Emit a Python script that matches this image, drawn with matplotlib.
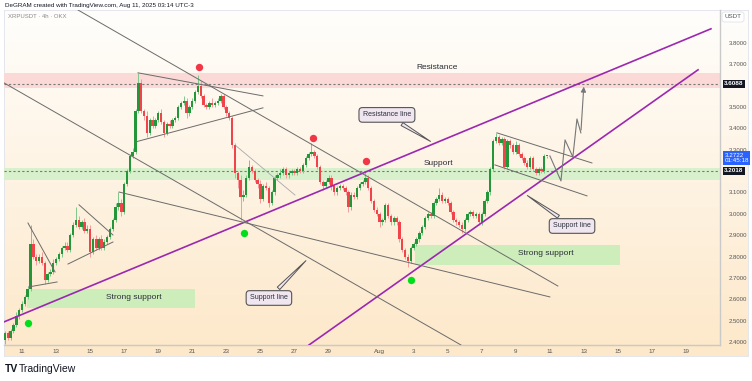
import numpy as np
import matplotlib.pyplot as plt
from matplotlib.patches import Rectangle
from matplotlib.colors import LinearSegmentedColormap

plt.rcParams['font.family'] = ['Liberation Sans', 'DejaVu Sans']

# -------------------- Data --------------------
# XRPUSDT 4h closes, first candle Jul 10 00:00 (x axis = days from Jul 11 00:00)
first_open = 2.41
close = [2.44, 2.42, 2.45, 2.48, 2.52, 2.55, 2.58, 2.61, 2.65, 2.86, 2.80, 2.78,
         2.80, 2.77, 2.69, 2.72, 2.73, 2.77, 2.79, 2.81, 2.84, 2.85, 2.83, 2.90,
         2.95, 2.97, 2.94, 2.96, 2.92, 2.93, 2.82, 2.88, 2.84, 2.88, 2.84, 2.87,
         2.89, 2.93, 2.97, 3.03, 3.05, 3.01, 3.14, 3.20, 3.27, 3.29, 3.48, 3.61,
         3.48, 3.46, 3.38, 3.44, 3.41, 3.44, 3.47, 3.43, 3.38, 3.42, 3.41, 3.44,
         3.45, 3.50, 3.52, 3.53, 3.47, 3.50, 3.53, 3.57, 3.60, 3.55, 3.51, 3.50,
         3.52, 3.51, 3.52, 3.53, 3.55, 3.50, 3.47, 3.45, 3.32, 3.19, 3.16, 3.08,
         3.09, 3.17, 3.22, 3.20, 3.16, 3.14, 3.07, 3.13, 3.12, 3.05, 3.10, 3.17,
         3.18, 3.19, 3.21, 3.18, 3.19, 3.20, 3.19, 3.21, 3.20, 3.23, 3.26, 3.28,
         3.29, 3.27, 3.22, 3.15, 3.13, 3.15, 3.17, 3.13, 3.10, 3.12, 3.13, 3.12,
         3.10, 3.03, 3.09, 3.08, 3.12, 3.14, 3.15, 3.17, 3.12, 3.06, 3.02, 3.00,
         2.96, 2.97, 3.04, 2.99, 2.96, 2.98, 2.96, 2.88, 2.83, 2.80, 2.78, 2.84,
         2.86, 2.88, 2.91, 2.94, 2.98, 3.00, 2.99, 3.05, 3.07, 3.09, 3.06, 3.07,
         3.05, 3.01, 2.97, 2.96, 2.95, 2.93, 2.97, 3.00, 3.01, 2.99, 3.00, 2.96,
         3.00, 3.06, 3.10, 3.21, 3.34, 3.36, 3.33, 3.35, 3.22, 3.34, 3.32, 3.29,
         3.32, 3.28, 3.26, 3.24, 3.22, 3.26, 3.21, 3.19, 3.21, 3.20, 3.27, 3.2722]
# wick lengths in cents above / below the body
wick_up = [1, 1, 1, 1, 2, 1, 1, 1, 1, 9, 2, 1,
           1, 2, 1, 1, 1, 2, 1, 1, 1, 2, 2, 1,
           1, 6, 2, 1, 2, 2, 2, 1, 2, 1, 2, 1,
           1, 1, 1, 2, 5, 2, 1, 1, 1, 2, 1, 5,
           2, 1, 2, 1, 2, 1, 1, 2, 1, 1, 2, 1,
           1, 1, 1, 2, 1, 1, 1, 1, 5, 2, 1, 1,
           1, 2, 1, 1, 1, 1, 1, 1, 1, 1, 1, 2,
           2, 1, 3, 1, 1, 1, 2, 1, 2, 1, 1, 1,
           1, 2, 1, 1, 1, 1, 1, 1, 1, 1, 1, 1,
           4, 1, 1, 1, 1, 1, 1, 1, 1, 1, 1, 1,
           1, 1, 1, 1, 1, 1, 1, 3, 1, 1, 1, 1,
           1, 1, 1, 1, 1, 1, 1, 1, 1, 1, 1, 1,
           1, 1, 1, 1, 1, 1, 1, 1, 1, 3, 1, 1,
           1, 1, 1, 1, 1, 1, 1, 1, 1, 1, 1, 1,
           1, 1, 1, 1, 1, 2, 1, 1, 1, 1, 1, 1,
           2, 1, 1, 1, 1, 1, 1, 1, 1, 1, 1, 0]
wick_dn = [2, 1, 1, 1, 1, 1, 1, 1, 1, 1, 1, 2,
           1, 1, 2, 1, 1, 1, 1, 1, 1, 1, 1, 1,
           1, 1, 1, 1, 1, 1, 2, 1, 1, 1, 1, 1,
           1, 1, 1, 1, 1, 2, 1, 1, 1, 1, 1, 1,
           1, 2, 2, 1, 1, 1, 1, 1, 2, 1, 1, 1,
           1, 1, 1, 1, 2, 1, 1, 1, 1, 1, 1, 1,
           1, 1, 1, 1, 1, 1, 1, 1, 1, 2, 4, 11,
           2, 1, 1, 1, 1, 2, 2, 1, 1, 2, 1, 1,
           1, 1, 1, 1, 1, 1, 1, 1, 1, 1, 1, 1,
           1, 1, 1, 1, 2, 1, 1, 2, 1, 1, 1, 1,
           1, 2, 1, 1, 1, 1, 1, 1, 1, 1, 1, 1,
           2, 1, 1, 1, 1, 1, 1, 1, 1, 1, 3, 1,
           1, 1, 1, 1, 1, 1, 1, 1, 1, 1, 1, 1,
           1, 1, 1, 1, 1, 2, 1, 1, 1, 1, 1, 1,
           1, 1, 1, 1, 1, 1, 1, 1, 1, 1, 1, 1,
           1, 1, 1, 1, 1, 1, 1, 1, 1, 1, 1, 1]

# Horizontal levels / zones (price)
resistance_zone = (3.589, 3.660)
support_zone = (3.159, 3.215)
level_lines = [3.6088, 3.2018]
# strong support boxes: (day start, day end, price low, price high)
strong_boxes = [(0.29, 10.16, 2.559, 2.648), (23.08, 35.11, 2.761, 2.854)]

# Trendlines: ((day, price), (day, price))
purple_lines = [((-1.06, 2.494), (40.46, 3.866)),
                ((16.85, 2.386), (39.70, 3.674))]
grey_lines = [((-1.06, 3.613), (25.78, 2.386)),
              ((3.29, 3.954), (31.47, 2.662)),
              ((5.70, 3.102), (31.00, 2.611)),
              ((6.81, 3.660), (14.15, 3.552)),
              ((6.69, 3.337), (14.15, 3.496)),
              ((0.35, 2.957), (1.94, 2.728)),
              ((0.41, 2.658), (2.06, 2.681)),
              ((3.35, 3.042), (5.34, 2.901)),
              ((2.70, 2.765), (5.34, 2.868)),
              ((27.89, 3.379), (33.47, 3.238)),
              ((27.77, 3.229), (33.18, 3.084))]
faint_lines = [((12.57, 3.318), (16.03, 3.088))]
path_days = [31.00, 31.65, 31.89, 32.35, 32.59, 32.82, 33.00]
path_price = [3.271, 3.154, 3.346, 3.266, 3.444, 3.379, 3.608]

red_dots = [(10.39, 3.688), (17.09, 3.355), (20.20, 3.248)]
green_dots = [(0.35, 2.489), (13.04, 2.911), (22.84, 2.690)]

zone_labels = [('Resistance', 24.37, 3.683), ('Support', 24.43, 3.234),
               ('Strong support', 6.58, 2.606), ('Strong support', 30.77, 2.812)]
# callouts: text, box centre, tip
callouts = [('Resistance line', (21.43, 3.463), (24.13, 3.332)),
            ('Support line', (14.50, 2.606), (16.79, 2.790)),
            ('Support line', (32.30, 2.943), (29.54, 3.093))]

tick_days = [0, 2, 4, 6, 8, 10, 12, 14, 16, 18, 21, 23, 25, 27, 29, 31, 33, 35, 37, 39]
tick_text = ['11', '13', '15', '17', '19', '21', '23', '25', '27', '29',
             'Aug', '3', '5', '7', '9', '11', '13', '15', '17', '19']
# 3.6 and 3.2 are hidden behind the level tags on the price scale
price_ticks = [2.4, 2.5, 2.6, 2.7, 2.8, 2.9, 3.0, 3.1, 3.3, 3.4, 3.5, 3.7, 3.8]

# -------------------- Figure --------------------
W, H = 752, 381
fig = plt.figure(figsize=(7.52, 3.81), dpi=100)


def box(l, t, r, b):
    return [l / W, 1 - b / H, (r - l) / W, (b - t) / H]


# gradient pane behind chart + price scale + date scale
bg = fig.add_axes(box(4, 10, 748, 356))
cmap = LinearSegmentedColormap.from_list('pane', ['#fffefc', '#fde8c9'])
bg.imshow(np.linspace(0, 1, 256).reshape(-1, 1), aspect='auto', cmap=cmap,
          extent=[0, 1, 0, 1], origin='upper')
for s in bg.spines.values():
    s.set_color('#e0e3eb')
    s.set_linewidth(0.6)
bg.set_xticks([])
bg.set_yticks([])

ax = fig.add_axes(box(4, 10, 720, 345))
ax.set_facecolor('none')
ax.set_xlim(-1.057, 40.99)
ax.set_ylim(2.386, 3.954)

# zones
ax.axhspan(*resistance_zone, color='#fbd9d7', zorder=0.5, lw=0)
ax.axhspan(*support_zone, color='#d8f1cc', zorder=0.5, lw=0)
for lv in level_lines:
    ax.axhline(lv, color='#7a7a7a', lw=0.8, ls=(0, (2, 2)), zorder=0.6)
for d0, d1, p0, p1 in strong_boxes:
    ax.add_patch(Rectangle((d0, p0), d1 - d0, p1 - p0, fc='#cdedba', ec='none', zorder=0.5))

# candles
opens = [first_open] + close[:-1]
for i, c in enumerate(close):
    o = opens[i]
    x = -1 + i / 6
    hi = max(o, c) + wick_up[i] / 100
    lo = min(o, c) - wick_dn[i] / 100
    up = c >= o
    body_c = '#24963a' if up else '#f0434a'
    wick_c = '#7fc78b' if up else '#f39b9d'
    ax.vlines(x, lo, hi, color=wick_c, lw=0.7, zorder=2)
    ax.bar(x, max(abs(c - o), 0.004), bottom=min(o, c), width=0.14,
           color=body_c, lw=0, zorder=2.1)

# drawings
for (d0, p0), (d1, p1) in purple_lines:
    ax.plot([d0, d1], [p0, p1], color='#9c27b0', lw=1.2, zorder=3)
for (d0, p0), (d1, p1) in grey_lines:
    ax.plot([d0, d1], [p0, p1], color='#6b6b6b', lw=0.7, zorder=3)
for (d0, p0), (d1, p1) in faint_lines:
    ax.plot([d0, d1], [p0, p1], color='#a8a8a8', lw=0.6, zorder=3)
ax.plot(path_days[:-1], path_price[:-1], color='#777777', lw=0.8, zorder=3)
ax.annotate('', xy=(path_days[-1], path_price[-1]), xytext=(path_days[-2], path_price[-2]),
            arrowprops=dict(arrowstyle='-|>,head_length=0.3,head_width=0.15',
                            color='#777777', lw=0.8), zorder=3)

ax.scatter([d for d, p in red_dots], [p for d, p in red_dots], s=28, color='#f23645', zorder=4, lw=0)
ax.scatter([d for d, p in green_dots], [p for d, p in green_dots], s=28, color='#00e01a', zorder=4, lw=0)

for txt, d, p in zone_labels:
    ax.text(d, p, txt, fontsize=6, color='#2a2e39', ha='center', va='center', zorder=5)

for txt, (bd, bp), (td, tp) in callouts:
    ax.annotate(txt, xy=(td, tp), xytext=(bd, bp), fontsize=5, color='#2a2e39',
                ha='center', va='center', zorder=5,
                bbox=dict(boxstyle='round,pad=0.55,rounding_size=0.5', fc='#efe6f0', ec='#555555', lw=0.8),
                arrowprops=dict(arrowstyle='wedge,tail_width=0.5,shrink_factor=0.5',
                                fc='#efe6f0', ec='#555555', lw=0.7))

# axes styling
for s in ['top', 'left']:
    ax.spines[s].set_visible(False)
for s in ['right', 'bottom']:
    ax.spines[s].set_color('#c9c9c9')
    ax.spines[s].set_linewidth(1.0)
ax.yaxis.tick_right()
ax.set_yticks(price_ticks)
ax.set_yticklabels(['%.4f' % p for p in price_ticks])
ax.tick_params(axis='y', length=0, pad=6, labelsize=4.3, labelcolor='#555555')
ax.set_xticks(tick_days)
ax.set_xticklabels(tick_text)
ax.tick_params(axis='x', length=0, pad=3, labelsize=4.5, labelcolor='#555555')

# price scale tags
yt = ax.get_yaxis_transform()
ax.text(1.006, 3.6088, '3.6088', transform=yt, fontsize=4.5, color='white', va='center',
        ha='left', weight='bold', bbox=dict(fc='#131722', ec='none', pad=1.2), zorder=6)
ax.text(1.006, 3.2018, '3.2018', transform=yt, fontsize=4.5, color='white', va='center',
        ha='left', weight='bold', bbox=dict(fc='#131722', ec='none', pad=1.2), zorder=6)
ax.text(1.006, 3.262, '3.2722\n01:45:18', transform=yt, fontsize=4.5, color='white', va='center',
        ha='left', linespacing=1.1, bbox=dict(fc='#2962ff', ec='none', pad=1.2), zorder=6)

fig.text(733 / W, 1 - 17 / H, 'USDT', fontsize=4.5, color='#555555', ha='center', va='center',
         bbox=dict(boxstyle='round,pad=0.4', fc='white', ec='#e0e3eb', lw=0.6))
fig.text(5 / W, 1 - 5 / H, 'DeGRAM created with TradingView.com, Aug 11, 2025 03:14 UTC-3',
         fontsize=4.5, color='#131722', ha='left', va='center')
fig.text(8 / W, 1 - 17 / H, 'XRPUSDT \u00b7 4h \u00b7 OKX', fontsize=4.3, color='#8a8a8a',
         ha='left', va='center')
fig.text(5 / W, 1 - 369 / H, 'TV', fontsize=7.5, color='#131722', weight='heavy', ha='left', va='center')
fig.text(19 / W, 1 - 369 / H, 'TradingView', fontsize=7.5, color='#131722', ha='left', va='center')

fig.savefig('out.png', dpi=100)
